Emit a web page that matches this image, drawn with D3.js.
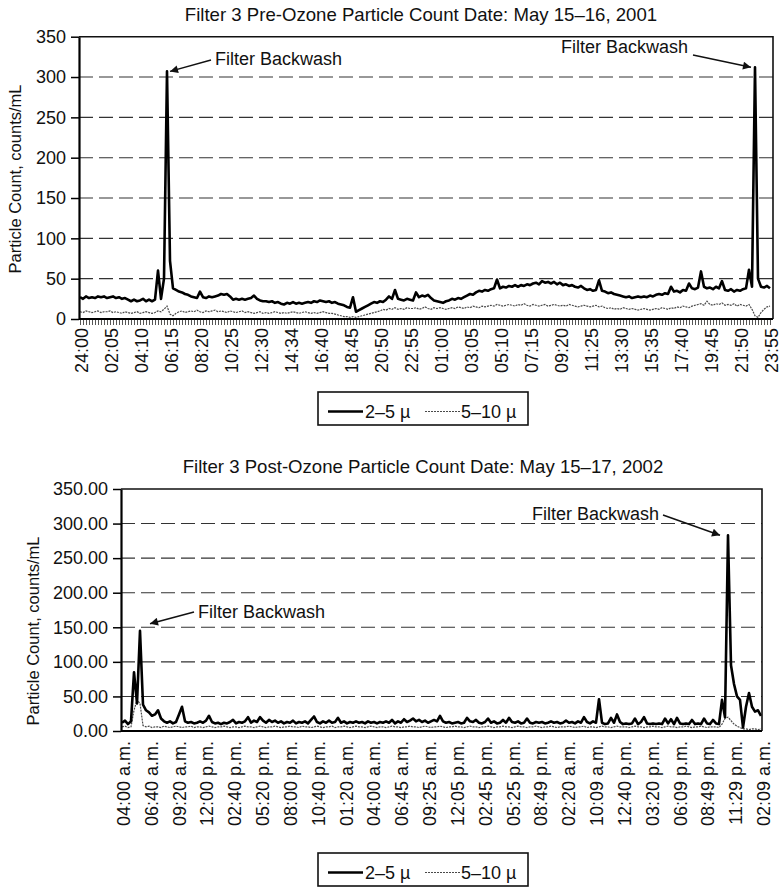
<!DOCTYPE html>
<html><head><meta charset="utf-8">
<script src="https://cdn.jsdelivr.net/npm/d3@7/dist/d3.min.js"></script>
<style>
body{margin:0;background:#fff}
text{font-family:"Liberation Sans",Arial,Helvetica,sans-serif;fill:#111}
</style>
</head><body>
<svg id="c" width="782" height="889"></svg>
<script>
// ---------- DATA ----------
const seriesNames = ["2\u20135 \u00b5", "5\u201310 \u00b5"];
const yTicks = [0, 50, 100, 150, 200, 250, 300, 350];
const gridValues = [50, 100, 150, 200, 250, 300];

const preTitle = "Filter 3 Pre-Ozone Particle Count Date: May 15\u201316, 2001";
const preLabels = ["24:00","02:05","04:10","06:15","08:20","10:25","12:30","14:34","16:40","18:45","20:50","22:55","01:00","03:05","05:10","07:15","09:20","11:25","13:30","15:35","17:40","19:45","21:50","23:55"];
const pre2to5 = [
27,25,28,26,27,26,28,27,28,26,
27,28,26,27,25,26,24,22,24,22,
23,25,22,24,22,24,60,25,50,307,
72,38,36,34,33,31,30,28,27,26,
34,27,26,28,27,28,29,31,30,31,
28,24,25,24,25,24,25,26,29,25,
23,22,22,21,22,20,21,19,18,20,
19,21,19,20,19,20,21,20,22,21,
23,22,21,22,20,21,19,18,17,15,
14,27,9,11,13,15,17,19,21,20,
22,21,24,28,25,36,25,24,23,25,
24,23,33,27,29,28,30,26,23,22,
21,20,22,23,25,24,26,25,27,29,
31,30,33,35,34,36,35,37,38,49,
38,40,39,41,40,42,40,42,41,43,
42,44,45,43,47,45,46,44,46,43,
45,42,43,41,42,40,39,41,38,36,
37,35,36,48,35,34,32,33,31,30,
29,28,27,28,26,27,28,27,28,27,
29,28,30,31,30,32,31,40,34,35,
33,36,35,44,38,37,39,59,40,38,
39,37,40,38,47,36,35,37,34,36,
35,37,38,61,40,312,50,40,39,41,
38];
const pre5to10 = [
9,8,10,9,8,9,10,8,9,9,
10,8,9,8,7,9,8,7,8,9,
7,8,9,8,7,8,
10,9,12,16,6,4,7,
9,10,8,9,10,9,11,9,8,10,
9,10,11,9,10,9,8,10,9,8,
9,10,8,9,8,7,8,9,7,8,
7,8,9,8,7,8,7,8,9,8,
7,8,9,8,7,8,7,8,9,8,
7,7,
6,5,4,3,3,2,
3,2,3,4,5,6,7,8,9,10,
12,11,13,12,14,12,13,12,14,13,
13,14,12,13,15,13,12,14,13,14,
13,12,13,14,13,15,14,13,15,14,
16,15,14,16,15,
16,17,16,18,17,16,17,18,17,16,
18,17,19,17,16,18,17,16,17,18,
16,17,18,17,16,17,16,18,17,16,
15,16,17,16,15,16,17,15,16,14,
13,14,12,13,12,14,13,12,13,12,
11,12,13,12,11,12,13,12,14,13,
12,14,13,15,14,16,15,14,16,17,
18,19,17,22,18,17,19,18,20,17,
18,17,19,16,18,17,16,18,
12,4,2,8,12,15,16];

const postTitle = "Filter 3 Post-Ozone Particle Count Date: May 15\u201317, 2002";
const postLabels = ["04:00 a.m.","06:40 a.m.","09:20 a.m.","12:00 p.m.","02:40 p.m.","05:20 p.m.","08:00 p.m.","10:40 p.m.","01:20 a.m.","04:00 a.m.","06:45 a.m.","09:25 a.m.","12:05 p.m.","02:45 p.m.","05:25 p.m.","08:49 p.m.","02:20 a.m.","10:09 a.m.","12:40 p.m.","03:20 p.m.","06:09 p.m.","08:49 p.m.","11:29 p.m.","02:09 a.m."];
const post2to5 = [
12,15,10,14,85,40,145,38,30,27,
22,24,30,18,14,12,14,11,13,24,
35,14,12,13,11,12,14,12,15,22,
13,11,12,10,12,11,13,16,11,13,
12,14,20,12,15,13,20,15,12,16,
13,15,12,14,11,13,12,15,11,13,
12,14,11,16,21,13,11,14,12,15,
12,13,19,12,14,11,13,12,14,12,
13,11,14,12,13,11,13,12,14,12,
16,11,14,12,17,13,15,18,14,16,
13,15,12,14,16,14,22,14,12,13,
11,12,13,11,12,19,14,13,16,12,
11,13,18,12,14,11,12,16,12,19,
13,12,14,11,12,18,12,11,13,12,
13,11,12,14,12,13,11,12,15,12,
13,11,14,12,20,13,11,14,12,46,
12,10,11,19,12,24,13,10,11,10,
11,18,10,13,20,11,10,11,10,11,
10,18,11,17,10,19,11,10,11,10,
16,10,11,10,18,11,10,16,11,10,
45,20,283,95,68,50,45,5,35,55,
35,28,30,22];
const post5to10 = [
6,7,5,6,30,45,40,8,
6,7,5,6,6,5,7,6,5,6,
7,6,5,6,6,7,5,6,6,5,
6,7,6,5,6,6,7,6,5,6,
6,5,6,7,6,6,5,6,7,6,
5,6,6,7,6,5,6,6,7,6,
6,5,7,6,6,5,6,7,6,5,
6,6,7,5,6,6,7,6,5,6,
7,6,6,5,6,7,6,5,6,6,
5,6,7,6,6,5,6,6,7,6,
6,5,6,7,6,5,6,6,7,6,
5,6,6,7,6,6,5,6,7,6,
6,5,6,6,7,6,5,6,6,7,
6,6,5,6,7,6,6,5,6,6,
7,6,5,6,6,7,6,5,6,6,
6,7,6,5,6,6,7,5,6,6,
5,6,7,6,6,5,6,7,6,6,
6,5,6,7,6,6,5,6,6,7,
6,6,5,6,7,6,6,5,6,6,
7,6,5,6,6,7,6,5,6,6,
6,5,
10,18,20,15,10,7,5,
3,3,2,3,3,2,3];

const annotationText = "Filter Backwash";

// ---------- DRAWING ----------
const svg = d3.select("#c");
svg.append("rect").attr("width", 782).attr("height", 889).attr("fill", "#fff");
const defs = svg.append("defs");
defs.append("marker").attr("id", "arr").attr("viewBox", "0 0 10 10")
  .attr("refX", 10).attr("refY", 5).attr("markerWidth", 13).attr("markerHeight", 8)
  .attr("markerUnits", "userSpaceOnUse").attr("orient", "auto")
  .append("path").attr("d", "M0,0 L10,5 L0,10 Z").attr("fill", "#111");

const FONT = '"Liberation Sans",Arial,sans-serif';
const thinColor = "#4a4a4a";

function drawChart(cfg) {
  const g = svg.append("g");
  const y = d3.scaleLinear().domain([0, 350]).range([cfg.bottom, cfg.top]);
  const xl = d3.scaleLinear().domain([0, cfg.labels.length - 1]).range([cfg.lx0, cfg.lx1]);

  // gridlines
  g.selectAll("line.grid").data(gridValues).join("line")
    .attr("x1", cfg.left).attr("x2", cfg.right)
    .attr("y1", d => y(d)).attr("y2", d => y(d))
    .attr("stroke", "#333").attr("stroke-width", 1.1).attr("stroke-dasharray", "14,6");

  // series
  const xs1 = d3.scaleLinear().domain([0, cfg.s1.length - 1]).range([cfg.dx0, cfg.dx1]);
  const xs2 = d3.scaleLinear().domain([0, cfg.s2.length - 1]).range([cfg.dx0, cfg.dx1]);
  g.append("path").datum(cfg.s2)
    .attr("d", d3.line().x((d, i) => xs2(i)).y(d => y(d)))
    .attr("fill", "none").attr("stroke", thinColor).attr("stroke-width", 1.2)
    .attr("stroke-dasharray", "2,1");
  g.append("path").datum(cfg.s1)
    .attr("d", d3.line().x((d, i) => xs1(i)).y(d => y(d)))
    .attr("fill", "none").attr("stroke", "#000").attr("stroke-width", 2.6)
    .attr("stroke-linejoin", "round");

  // frame (top + right)
  g.append("path")
    .attr("d", `M${cfg.left},${cfg.top}H${cfg.right}V${cfg.bottom}`)
    .attr("fill", "none").attr("stroke", "#111").attr("stroke-width", 1.6);

  // hatch ticks along x axis (one per sample)
  if (cfg.hatch) {
    const hx = d3.axisBottom(xs1).tickValues(d3.range(cfg.s1.length)).tickSize(6).tickFormat("");
    const hg = g.append("g").attr("transform", `translate(0,${cfg.bottom})`).call(hx);
    hg.select(".domain").remove();
    hg.selectAll("line").attr("stroke", "#444").attr("stroke-width", 0.9);
  }

  // x axis
  const xa = d3.axisBottom(xl).tickValues(d3.range(cfg.labels.length))
    .tickFormat(i => cfg.labels[i]).tickSize(0).tickSizeOuter(0);
  const xg = g.append("g").attr("transform", `translate(0,${cfg.bottom})`).call(xa);
  xg.select(".domain").remove();
  xg.selectAll("text")
    .attr("transform", "rotate(-90)")
    .attr("x", -cfg.labelGap).attr("y", 0).attr("dy", "0.36em")
    .style("text-anchor", "end").style("font-size", "18px")
    .style("font-family", FONT).attr("fill", "#111");
  g.append("line").attr("x1", cfg.left).attr("x2", cfg.right)
    .attr("y1", cfg.bottom).attr("y2", cfg.bottom)
    .attr("stroke", "#000").attr("stroke-width", 2.2);

  // y axis
  const ya = d3.axisLeft(y).tickValues(yTicks).tickFormat(cfg.fmt)
    .tickSize(8).tickSizeOuter(0).tickPadding(5);
  const yg = g.append("g").attr("transform", `translate(${cfg.left},0)`).call(ya);
  yg.select(".domain").attr("stroke", "#000").attr("stroke-width", 2.2);
  yg.selectAll("line").attr("stroke", "#000").attr("stroke-width", 1.5);
  yg.selectAll("text").style("font-size", "18px")
    .style("font-family", FONT).attr("fill", "#111");

  // y label
  g.append("text")
    .attr("transform", `translate(${cfg.ylabelX},${cfg.ylabelY}) rotate(-90)`)
    .attr("text-anchor", "middle").style("font-size", "16.5px")
    .text("Particle Count, counts/mL");

  // title
  g.append("text").attr("x", cfg.titleX).attr("y", cfg.titleY)
    .attr("text-anchor", "middle").style("font-size", "18.6px").text(cfg.title);

  // annotations
  cfg.ann.forEach(a => {
    const px = xs1(a.idx) + a.tipDx, py = y(cfg.s1[a.idx]) + a.tipDy;
    g.append("line").attr("x1", a.fromX).attr("y1", a.fromY)
      .attr("x2", px).attr("y2", py)
      .attr("stroke", "#111").attr("stroke-width", 1.5).attr("marker-end", "url(#arr)");
    g.append("text").attr("x", a.textX).attr("y", a.textY)
      .attr("text-anchor", a.anchor).style("font-size", "18px").text(annotationText);
  });

  // legend
  const L = cfg.legend;
  const lg = g.append("g").attr("transform", `translate(${L.x},${L.y})`);
  lg.append("rect").attr("width", L.w).attr("height", L.h)
    .attr("fill", "#fff").attr("stroke", "#111").attr("stroke-width", 1.6);
  lg.append("line").attr("x1", 10).attr("x2", 45).attr("y1", L.h / 2 + 3).attr("y2", L.h / 2 + 3)
    .attr("stroke", "#000").attr("stroke-width", 2.6);
  lg.append("text").attr("x", 47).attr("y", L.h / 2 + 9).style("font-size", "18px").text(seriesNames[0]);
  lg.append("line").attr("x1", 107).attr("x2", 142).attr("y1", L.h / 2 + 3).attr("y2", L.h / 2 + 3)
    .attr("stroke", thinColor).attr("stroke-width", 1.2).attr("stroke-dasharray", "2,1");
  lg.append("text").attr("x", 143).attr("y", L.h / 2 + 9).style("font-size", "18px").text(seriesNames[1]);
}

drawChart({
  title: preTitle, titleX: 421, titleY: 21,
  labels: preLabels, s1: pre2to5, s2: pre5to10,
  left: 79, right: 773, top: 36.7, bottom: 319,
  lx0: 81, lx1: 771, dx0: 80, dx1: 770, labelGap: 9,
  fmt: d3.format("d"), hatch: true,
  ylabelX: 21, ylabelY: 179,
  ann: [
    {idx: 29, tipDx: 3, tipDy: 0, fromX: 211, fromY: 60, textX: 215, textY: 65, anchor: "start"},
    {idx: 225, tipDx: -4, tipDy: 0, fromX: 693, fromY: 55, textX: 688, textY: 53, anchor: "end"}
  ],
  legend: {x: 318, y: 392, w: 210, h: 33}
});

drawChart({
  title: postTitle, titleX: 423, titleY: 473,
  labels: postLabels, s1: post2to5, s2: post5to10,
  left: 121, right: 762, top: 489, bottom: 731,
  lx0: 123, lx1: 763, dx0: 122, dx1: 761, labelGap: 10,
  fmt: d3.format(".2f"), hatch: false,
  ylabelX: 39, ylabelY: 631,
  ann: [
    {idx: 6, tipDx: 10, tipDy: -7, fromX: 194, fromY: 612, textX: 198, textY: 618, anchor: "start"},
    {idx: 202, tipDx: -8, tipDy: 0, fromX: 663, fromY: 515, textX: 659, textY: 520, anchor: "end"}
  ],
  legend: {x: 318, y: 853, w: 210, h: 33}
});
</script>
</body></html>
